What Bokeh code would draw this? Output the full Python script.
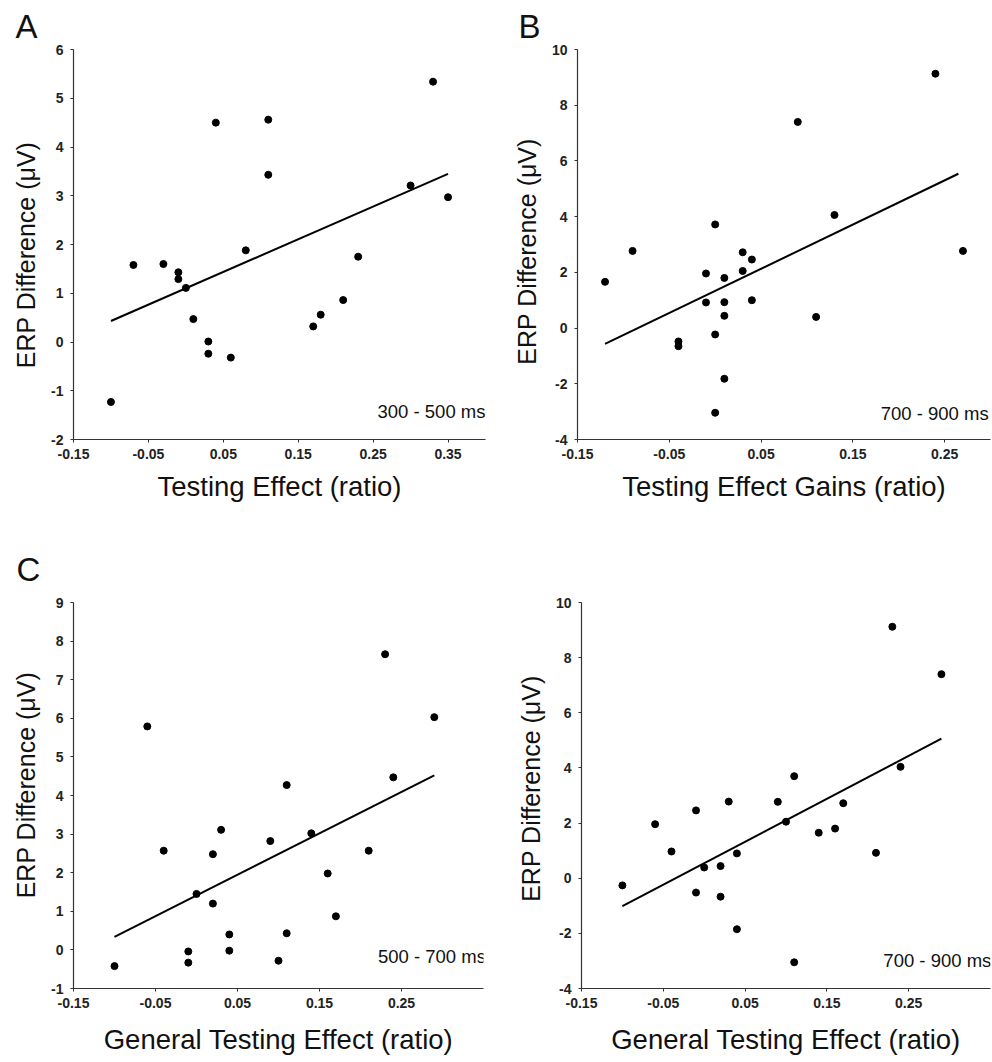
from bokeh.plotting import figure
from bokeh.models import Range1d, FixedTicker, Label, NumeralTickFormatter, Title
from bokeh.layouts import column, row
from bokeh.embed import file_html
from bokeh.resources import INLINE

FONT = "Liberation Sans"

# ---------------- Panel A : 300 - 500 ms ----------------
a_x = [-0.10, -0.07, -0.03, -0.01, -0.01, 0.00, 0.01, 0.03, 0.03, 0.04, 0.06,
       0.08, 0.11, 0.11, 0.17, 0.18, 0.21, 0.23, 0.30, 0.33, 0.35]
a_y = [-1.23, 1.58, 1.60, 1.43, 1.29, 1.11, 0.47, 0.01, -0.24, 4.50, -0.32,
       1.88, 4.56, 3.43, 0.32, 0.56, 0.86, 1.75, 3.21, 5.34, 2.97]
a_fit_x = [-0.10, 0.35]
a_fit_y = [0.43, 3.45]

# ---------------- Panel B : 700 - 900 ms (gains) ----------------
b_x = [-0.12, -0.09, -0.04, -0.04, -0.01, -0.01, 0.00, 0.00, 0.00, 0.01, 0.01,
       0.01, 0.01, 0.03, 0.03, 0.04, 0.04, 0.09, 0.11, 0.13, 0.24, 0.27]
b_y = [1.66, 2.77, -0.48, -0.65, 1.96, 0.92, 3.72, -0.23, -3.04, 1.80, 0.93,
       0.44, -1.82, 2.72, 2.05, 2.46, 1.00, 7.40, 0.40, 4.06, 9.13, 2.77]
b_fit_x = [-0.12, 0.265]
b_fit_y = [-0.57, 5.54]

# ---------------- Panel C : 500 - 700 ms ----------------
c_x = [-0.10, -0.06, -0.04, -0.01, -0.01, 0.00, 0.02, 0.02, 0.03, 0.04, 0.04,
       0.09, 0.10, 0.11, 0.11, 0.14, 0.16, 0.17, 0.21, 0.23, 0.24, 0.29]
c_y = [-0.42, 5.79, 2.57, -0.04, -0.33, 1.45, 2.48, 1.20, 3.11, 0.40, -0.02,
       2.82, -0.28, 4.27, 0.43, 3.02, 1.98, 0.87, 2.57, 7.66, 4.47, 6.03]
c_fit_x = [-0.10, 0.29]
c_fit_y = [0.34, 4.52]

# ---------------- Panel D : 700 - 900 ms (general) ----------------
d_x = [-0.10, -0.06, -0.04, -0.01, -0.01, 0.00, 0.02, 0.02, 0.03, 0.04, 0.04,
       0.09, 0.10, 0.11, 0.11, 0.14, 0.16, 0.17, 0.21, 0.23, 0.24, 0.29]
d_y = [-0.26, 1.96, 0.97, 2.46, -0.52, 0.39, 0.44, -0.67, 2.78, 0.90, -1.85,
       2.77, 2.05, 3.70, -3.05, 1.65, 1.80, 2.72, 0.92, 9.12, 4.04, 7.40]
d_fit_x = [-0.10, 0.29]
d_fit_y = [-1.01, 5.06]

# ---------------- ticks ----------------
x_ticks_A = [-0.15, -0.05, 0.05, 0.15, 0.25, 0.35]
x_labels_A = ["-0.15", "-0.05", "0.05", "0.15", "0.25", "0.35"]
x_ticks_BCD = [-0.15, -0.05, 0.05, 0.15, 0.25]
x_labels_BCD = ["-0.15", "-0.05", "0.05", "0.15", "0.25"]
y_ticks_A = [-2, -1, 0, 1, 2, 3, 4, 5, 6]
y_ticks_BD = [-4, -2, 0, 2, 4, 6, 8, 10]
y_ticks_C = [-1, 0, 1, 2, 3, 4, 5, 6, 7, 8, 9]

y_title = "ERP Difference (\u03bcV)"
NB = "\u00a0"


def panel(xs, ys, fx, fy, xr, yr, xticks, xlabels, yticks, xtitle, ytitle,
          note, note_xy, letter, letter_off, letter_standoff, size, borders,
          xtitle_standoff):
    w, h = size
    bl, br, bt, bb = borders
    p = figure(width=w, height=h, x_range=Range1d(*xr), y_range=Range1d(*yr),
               output_backend="svg", toolbar_location=None,
               min_border_left=bl, min_border_right=br,
               min_border_top=bt, min_border_bottom=bb)
    p.outline_line_color = None
    p.grid.visible = False
    p.background_fill_color = "white"
    p.border_fill_color = "white"

    if letter:
        p.title = Title(text=letter, align="left", offset=letter_off,
                        standoff=letter_standoff, text_font=FONT,
                        text_font_size="33px", text_font_style="normal",
                        text_color="#111111")

    p.xaxis.ticker = FixedTicker(ticks=xticks)
    p.xaxis.formatter = NumeralTickFormatter(format="0.00")
    p.xaxis.major_label_overrides = dict(zip(xticks, xlabels))
    p.yaxis.ticker = FixedTicker(ticks=yticks)
    p.yaxis.major_label_overrides = {t: str(t) for t in yticks}

    for ax in (p.xaxis, p.yaxis):
        ax.axis_line_color = "#333333"
        ax.axis_line_width = 1.2
        ax.major_tick_line_color = "#333333"
        ax.major_tick_in = 0
        ax.major_tick_out = 3
        ax.minor_tick_in = 0
        ax.minor_tick_out = 0
        ax.major_label_text_font = FONT
        ax.major_label_text_font_size = "14px"
        ax.major_label_text_font_style = "bold"
        ax.major_label_text_color = "#222222"
        ax.axis_label_text_font = FONT
        ax.axis_label_text_font_style = "normal"
        ax.axis_label_text_color = "#111111"
    p.xaxis.axis_label_text_font_size = "27.5px"
    p.yaxis.axis_label_text_font_size = "25px"
    p.xaxis.axis_label = xtitle
    p.yaxis.axis_label = ytitle
    p.xaxis.major_label_standoff = 6
    p.yaxis.major_label_standoff = 7
    p.xaxis.axis_label_standoff = xtitle_standoff
    p.yaxis.axis_label_standoff = 8

    p.line(fx, fy, line_width=2, color="black")
    p.scatter(xs, ys, size=7, color="black")

    p.add_layout(Label(x=note_xy[0], y=note_xy[1], text=note, text_align="right",
                       text_baseline="alphabetic", text_font=FONT,
                       text_font_size="18.5px", text_color="#111111"))
    return p


pA = panel(a_x, a_y, a_fit_x, a_fit_y, (-0.15, 0.40), (-2, 6), x_ticks_A, x_labels_A,
           y_ticks_A, "Testing Effect (ratio)", y_title + NB * 3,
           "300 - 500 ms", (0.40, -1.42),
           "A", -58, 10, (496, 530), (73, 11, 49, 91), 9)
pB = panel(b_x, b_y, b_fit_x, b_fit_y, (-0.15, 0.30), (-4, 10), x_ticks_BCD, x_labels_BCD,
           y_ticks_BD, "Testing Effect Gains (ratio)", y_title + NB * 2,
           "700 - 900 ms", (0.298, -3.08),
           "B", -59, 10, (496, 530), (81, 2, 49, 91), 9)
pC = panel(c_x, c_y, c_fit_x, c_fit_y, (-0.15, 0.35), (-1, 9), x_ticks_BCD, x_labels_BCD,
           y_ticks_C, "General Testing Effect (ratio)", NB * 3 + y_title,
           "500 - 700 ms", (0.353, -0.17),
           "C", -57, 30, (496, 532), (73, 13, 72, 72), 13)
pD = panel(d_x, d_y, d_fit_x, d_fit_y, (-0.15, 0.35), (-4, 10), x_ticks_BCD, x_labels_BCD,
           y_ticks_BD, "General Testing Effect (ratio)", NB * 2 + y_title,
           "700 - 900 ms", (0.351, -2.97),
           None, 0, 0, (496, 532), (85, 2, 70, 74), 13)

layout = column(row(pA, pB), row(pC, pD))
open("out.html", "w").write(file_html(layout, INLINE))
